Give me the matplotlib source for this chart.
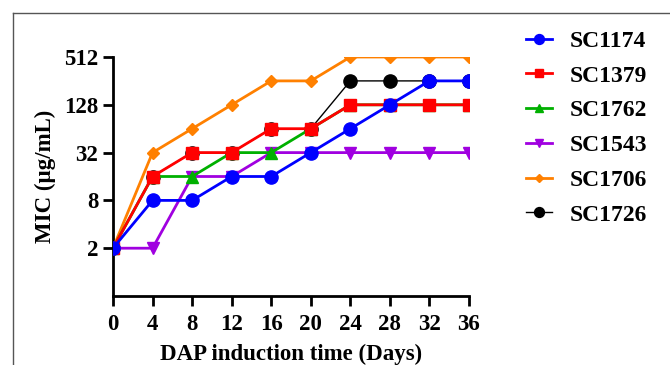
import matplotlib
matplotlib.use("Agg")
import matplotlib.pyplot as plt
from matplotlib.ticker import FixedLocator, FixedFormatter, NullLocator
from matplotlib.lines import Line2D

plt.rcParams['font.family'] = ['Liberation Serif', 'DejaVu Serif']
plt.rcParams['font.weight'] = 'bold'

# Days of DAP induction
days = [0, 4, 8, 12, 16, 20, 24, 28, 32, 36]

# MIC values (ug/mL) for each strain
sc1174 = [2, 8, 8, 16, 16, 32, 64, 128, 256, 256]
sc1379 = [2, 16, 32, 32, 64, 64, 128, 128, 128, 128]
sc1762 = [2, 16, 16, 32, 32, 64, 128, 128, 128, 128]
sc1543 = [2, 2, 16, 16, 32, 32, 32, 32, 32, 32]
sc1706 = [2, 32, 64, 128, 256, 256, 512, 512, 512, 512]
sc1726 = [2, 16, 32, 32, 64, 64, 256, 256, 256, 256]

y_ticks = [2, 8, 32, 128, 512]
x_ticks = [0, 4, 8, 12, 16, 20, 24, 28, 32, 36]

fig = plt.figure(figsize=(6.7, 3.65), dpi=100)
ax = fig.add_axes([113 / 670, 1 - 296 / 365, (469 - 113) / 670, (296 - 57) / 365])

# drawn bottom to top so overlaps look like the original
ax.plot(days, sc1726, color='black', lw=1.0, marker='o', ms=9.5, label='SC1726', zorder=2)
ax.plot(days, sc1706, color='#FF8000', lw=2, marker='D', ms=6, label='SC1706', zorder=3)
ax.plot(days, sc1543, color='#A000E0', lw=2, marker='v', ms=8, label='SC1543', zorder=4)
ax.plot(days, sc1762, color='#00B000', lw=2, marker='^', ms=8, label='SC1762', zorder=5)
ax.plot(days, sc1379, color='#FF0000', lw=2, marker='s', ms=8, label='SC1379', zorder=6)
ax.plot(days, sc1174, color='#0000FF', lw=2, marker='o', ms=9.5, label='SC1174', zorder=7)

ax.set_yscale('log', base=2)
ax.set_ylim(0.5, 512)
ax.set_xlim(0, 36)
ax.yaxis.set_major_locator(FixedLocator(y_ticks))
ax.yaxis.set_major_formatter(FixedFormatter([str(v) for v in y_ticks]))
ax.yaxis.set_minor_locator(NullLocator())
ax.set_xticks(x_ticks)

for s in ['top', 'right']:
    ax.spines[s].set_visible(False)
for s in ['left', 'bottom']:
    ax.spines[s].set_linewidth(2)
ax.tick_params(width=2, length=7, labelsize=16.5)
ax.tick_params(axis='x', pad=6)
for lab in ax.get_xticklabels() + ax.get_yticklabels():
    lab.set_fontweight('bold')

ax.set_xlabel('DAP induction time (Days)', fontsize=16.5, fontweight='bold', labelpad=6)
ax.set_ylabel('MIC (µg/mL)', fontsize=16.5, fontweight='bold', labelpad=6)

order = ['SC1174', 'SC1379', 'SC1762', 'SC1543', 'SC1706', 'SC1726']
handles, labels = ax.get_legend_handles_labels()
hmap = dict(zip(labels, handles))
ax.legend([hmap[k] for k in order], order, loc='upper left',
          bbox_to_anchor=(1.1, 1.2), frameon=False,
          handlelength=1.1, handletextpad=0.75, labelspacing=0.56,
          markerscale=0.75, prop={'weight': 'bold', 'size': 17})

# outer frame around the figure
fig.add_artist(Line2D([13 / 670, 13 / 670], [0, 1 - 13 / 365], color='#555555', lw=1))
fig.add_artist(Line2D([13 / 670, 1], [1 - 13 / 365, 1 - 13 / 365], color='#555555', lw=1))

fig.savefig('out.png', dpi=100)
